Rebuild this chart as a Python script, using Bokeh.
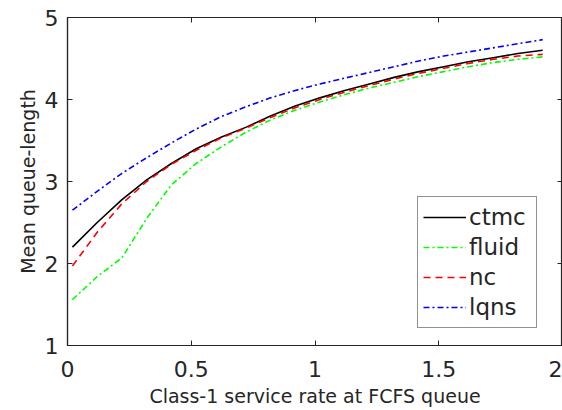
from bokeh.plotting import figure
from bokeh.models import Range1d, FixedTicker, LinearAxis, Legend, LegendItem, CustomLabelingPolicy
from bokeh.embed import file_html
from bokeh.resources import INLINE

x = [0.02, 0.12, 0.22, 0.32, 0.42, 0.52, 0.62, 0.72, 0.82, 0.92,
     1.02, 1.12, 1.22, 1.32, 1.42, 1.52, 1.62, 1.72, 1.82, 1.92]
ctmc = [2.20, 2.50, 2.78, 3.02, 3.22, 3.40, 3.54, 3.66, 3.80, 3.92,
        4.02, 4.11, 4.19, 4.27, 4.34, 4.40, 4.46, 4.51, 4.56, 4.60]
fluid = [1.56, 1.84, 2.07, 2.55, 2.96, 3.22, 3.42, 3.60, 3.75, 3.87,
         3.97, 4.06, 4.14, 4.21, 4.28, 4.34, 4.40, 4.45, 4.49, 4.52]
nc = [1.97, 2.38, 2.73, 3.00, 3.21, 3.38, 3.53, 3.65, 3.78, 3.90,
      4.00, 4.09, 4.17, 4.25, 4.32, 4.38, 4.44, 4.49, 4.53, 4.55]
lqns = [2.65, 2.88, 3.10, 3.29, 3.47, 3.64, 3.79, 3.91, 4.02, 4.11,
        4.19, 4.26, 4.33, 4.40, 4.47, 4.53, 4.58, 4.63, 4.68, 4.73]

x_ticks = [0, 0.5, 1, 1.5, 2]
y_ticks = [1, 2, 3, 4, 5]

FONT = "DejaVu Sans"
AX = "#262626"

p = figure(width=562, height=410, output_backend="svg", toolbar_location=None,
           x_range=Range1d(0, 2), y_range=Range1d(1, 5),
           min_border_left=67, min_border_right=0, min_border_top=17, min_border_bottom=65)
p.xgrid.visible = False
p.ygrid.visible = False
p.outline_line_color = AX
p.outline_line_width = 1.2

r_ctmc = p.line(x, ctmc, line_color="black", line_width=1.6)
r_fluid = p.line(x, fluid, line_color="#00ff00", line_width=1.6, line_dash="6 3 2 3")
r_nc = p.line(x, nc, line_color="#ff0000", line_width=1.6, line_dash="7 5")
r_lqns = p.line(x, lqns, line_color="#0000ff", line_width=1.6, line_dash="6 3 2 3")

def style(ax, ticks):
    ax.ticker = FixedTicker(ticks=ticks)
    ax.major_tick_in = 5
    ax.major_tick_out = 0
    ax.minor_tick_in = 0
    ax.minor_tick_out = 0
    ax.axis_line_color = AX
    ax.axis_line_width = 1.2
    ax.major_tick_line_color = AX
    ax.major_label_text_color = AX
    ax.major_label_text_font = FONT
    ax.major_label_text_font_size = "22px"
    ax.axis_label_text_font = FONT
    ax.axis_label_text_font_size = "19px"
    ax.axis_label_text_font_style = "normal"
    ax.axis_label_text_color = AX

xa = p.xaxis[0]
ya = p.yaxis[0]
style(xa, x_ticks)
style(ya, y_ticks)
xa.major_label_overrides = {0: "0", 0.5: "0.5", 1: "1", 1.5: "1.5", 2: "2"}
ya.major_label_overrides = {1: "1", 2: "2", 3: "3", 4: "4", 5: "5"}
xa.axis_label = "Class-1 service rate at FCFS queue"
ya.axis_label = "Mean queue-length"
xa.major_label_standoff = 15
ya.major_label_standoff = 9
xa.axis_label_standoff = 5
ya.axis_label_standoff = 3

top = LinearAxis()
right = LinearAxis()
for ax, t in ((top, x_ticks), (right, y_ticks)):
    style(ax, t)
    ax.major_label_standoff = 0
    ax.major_label_text_font_size = "0px"
    ax.major_label_policy = CustomLabelingPolicy(code="return new Set()")
p.add_layout(top, "above")
p.add_layout(right, "right")

legend = Legend(items=[
    LegendItem(label="ctmc", renderers=[r_ctmc]),
    LegendItem(label="fluid", renderers=[r_fluid]),
    LegendItem(label="nc", renderers=[r_nc]),
    LegendItem(label="lqns", renderers=[r_lqns]),
], location=(350, 17))
legend.label_text_font = FONT
legend.label_text_font_size = "23px"
legend.label_text_color = AX
legend.glyph_width = 43
legend.glyph_height = 30
legend.label_height = 30
legend.label_width = 62
legend.label_standoff = 3
legend.spacing = 0
legend.padding = 5
legend.margin = 0
legend.border_line_color = AX
legend.border_line_width = 1.2
legend.background_fill_alpha = 1
p.add_layout(legend)

open("out.html", "w").write(file_html(p, INLINE))
